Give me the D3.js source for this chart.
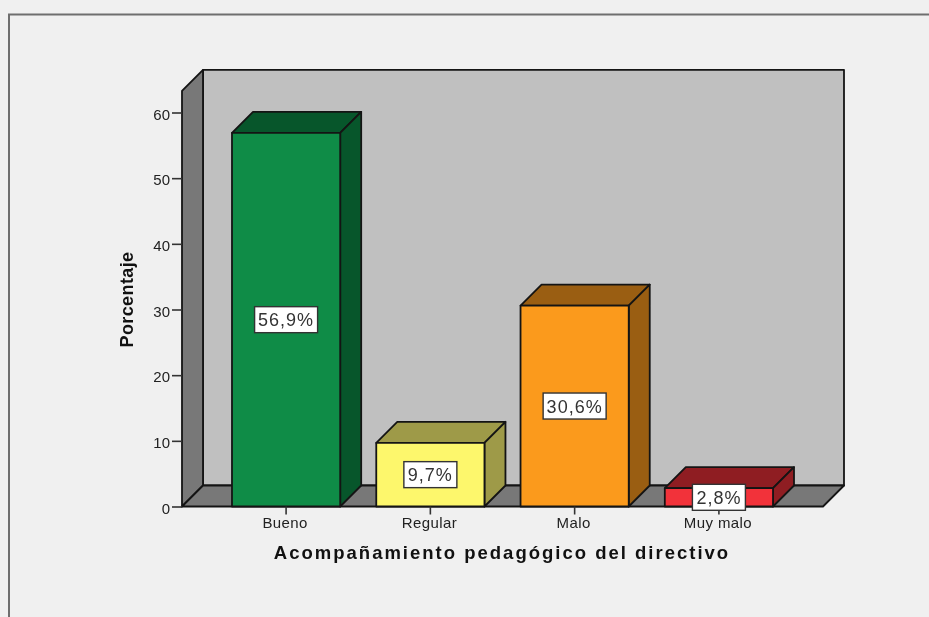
<!DOCTYPE html>
<html><head><meta charset="utf-8">
<script src="https://cdn.jsdelivr.net/npm/d3@7"></script>
<style>html,body{margin:0;padding:0;background:#f0f0f0;overflow:hidden}svg{display:block;filter:blur(0.6px)}text{font-family:"Liberation Sans",Arial,sans-serif}</style>
</head><body><svg id="c" width="929" height="617"></svg>
<script>
const categories = ["Bueno","Regular","Malo","Muy malo"];
const values = [56.9,9.7,30.6,2.8];
const labels = ["56,9%","9,7%","30,6%","2,8%"];
const yTicks = [0,10,20,30,40,50,60];
const frontColors = ["#0f8c47","#fdf76c","#fb9a1c","#f2323a"];
const topColors = ["#07562b","#9e9a48","#9a5e12","#8f1d22"];
const sideColors = ["#07562b","#9e9a48","#9a5e12","#8f1d22"];
const xTitle = "Acompañamiento pedagógico del directivo";
const yTitle = "Porcentaje";

const svg = d3.select("#c");
const root = svg.append("g");

root.append("rect").attr("width",929).attr("height",617).attr("fill","#f0f0f0");
root.append("path").attr("d","M9,640V14.5H950").attr("fill","none").attr("stroke","#6e6e6e").attr("stroke-width",2);

const x = d3.scaleBand().domain(categories).range([182,823]).paddingInner(0.25).paddingOuter(0.3465);
const y = d3.scaleLinear().domain([0,60]).range([506.5,112.5]);
const yMax = 63.3;
const dx = 21, dy = -21;
const ink = "#141414";
const poly = p => "M"+p.map(a=>a.join(",")).join("L")+"Z";

const x0=x.range()[0], x1=x.range()[1], yb=y(0), yt=y(yMax);
const walls = root.append("g").attr("stroke",ink).attr("stroke-width",1.8).attr("stroke-linejoin","round");
walls.append("path").attr("d",poly([[x0+dx,yb+dy],[x1+dx,yb+dy],[x1+dx,yt+dy],[x0+dx,yt+dy]])).attr("fill","#c0c0c0");
walls.append("path").attr("d",poly([[x0,yb],[x0+dx,yb+dy],[x0+dx,yt+dy],[x0,yt]])).attr("fill","#787878");
walls.append("path").attr("d",poly([[x0,yb],[x1,yb],[x1+dx,yb+dy],[x0+dx,yb+dy]])).attr("fill","#787878");

const bars = root.append("g").selectAll("g").data(categories).join("g")
  .attr("stroke",ink).attr("stroke-width",1.8).attr("stroke-linejoin","round");
bars.each(function(c,i){
  const g=d3.select(this), l=x(c), r=l+x.bandwidth(), t=y(values[i]);
  g.append("path").attr("d",poly([[l,t],[r,t],[r+dx,t+dy],[l+dx,t+dy]])).attr("fill",topColors[i]);
  g.append("path").attr("d",poly([[r,t],[r+dx,t+dy],[r+dx,yb+dy],[r,yb]])).attr("fill",sideColors[i]);
  g.append("rect").attr("x",l).attr("y",t).attr("width",r-l).attr("height",yb-t).attr("fill",frontColors[i]);
});

const axisY = d3.axisLeft(y).tickValues(yTicks).tickSize(10).tickSizeOuter(0).tickPadding(2);
const gy = root.append("g").attr("transform",`translate(${x0},0)`).call(axisY);
gy.select(".domain").remove();
gy.selectAll("line").attr("stroke","#333").attr("stroke-width",1.6);
gy.selectAll("text").attr("font-size",15).attr("fill","#222").attr("dy","0.45em");

const axisX = d3.axisBottom(x).tickSize(8).tickSizeOuter(0).tickPadding(3);
const gx = root.append("g").attr("transform",`translate(0,${yb})`).call(axisX);
gx.select(".domain").remove();
gx.selectAll("line").attr("stroke","#333").attr("stroke-width",1.6);
gx.selectAll("text").attr("font-size",15).attr("fill","#222").attr("letter-spacing",0.4).attr("dx",-1);

const lab = root.append("g").selectAll("g").data(categories).join("g")
  .attr("transform",(c,i)=>`translate(${x(c)+x.bandwidth()/2},${(y(values[i])+yb)/2})`);
lab.append("rect").attr("x",(c,i)=>i%2?-26.5:-31.5).attr("width",(c,i)=>i%2?53:63).attr("y",-13).attr("height",26)
  .attr("fill","#fff").attr("stroke","#333").attr("stroke-width",1.4);
lab.append("text").text((c,i)=>labels[i]).attr("text-anchor","middle").attr("y",6.5).attr("font-size",18).attr("fill","#333").attr("letter-spacing",1);

root.append("text").text(xTitle).attr("x",502).attr("y",559).attr("text-anchor","middle")
  .attr("font-size",18.5).attr("font-weight","bold").attr("letter-spacing",2).attr("fill","#111");
root.append("text").text(yTitle).attr("transform","translate(133,299.5) rotate(-90)").attr("text-anchor","middle")
  .attr("font-size",18).attr("font-weight","bold").attr("letter-spacing",0.4).attr("fill","#111");
</script></body></html>
